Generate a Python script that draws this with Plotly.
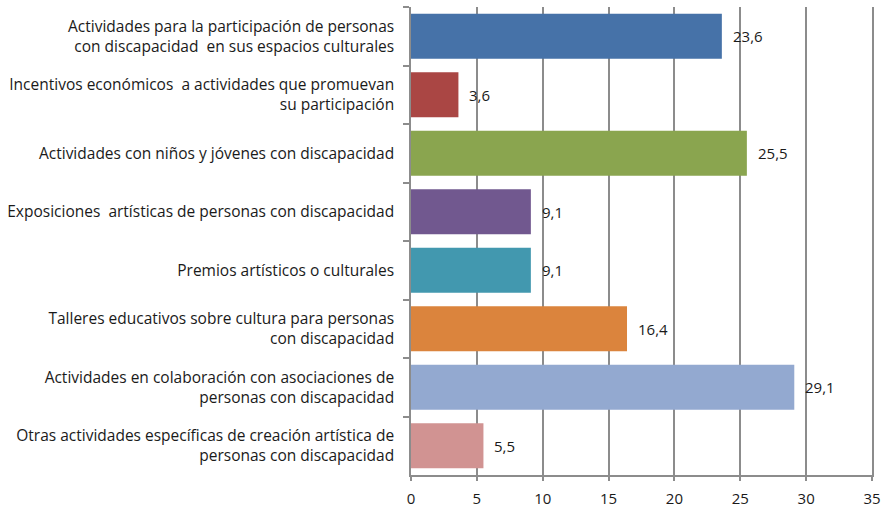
import plotly.graph_objects as go

categorias = [
    "Actividades para la participación de personas<br>con discapacidad  en sus espacios culturales",
    "Incentivos económicos  a actividades que promuevan<br>su participación",
    "Actividades con niños y jóvenes con discapacidad",
    "Exposiciones  artísticas de personas con discapacidad",
    "Premios artísticos o culturales",
    "Talleres educativos sobre cultura para personas<br>con discapacidad",
    "Actividades en colaboración con asociaciones de<br>personas con discapacidad",
    "Otras actividades específicas de creación artística de<br>personas con discapacidad",
]
valores = [23.6, 3.6, 25.5, 9.1, 9.1, 16.4, 29.1, 5.5]
colores = ["#4672A8", "#AA4644", "#8AA54F", "#71588F",
           "#4298AF", "#DB843D", "#93A9D0", "#D19392"]
ticks_x = [0, 5, 10, 15, 20, 25, 30, 35]

fig = go.Figure()
fig.add_trace(go.Bar(
    x=valores,
    y=categorias,
    orientation="h",
    marker=dict(color=colores, line=dict(width=0)),
    hoverinfo="x+y",
))

# etiquetas de datos a la derecha de cada barra
for cat, val in zip(categorias, valores):
    fig.add_annotation(
        x=val, y=cat,
        text=f"{val:.1f}".replace(".", ","),
        showarrow=False,
        xanchor="left",
        xshift=9,
        font=dict(size=15, color="#1a1a1a"),
    )

fig.update_layout(
    width=882,
    height=507,
    margin=dict(l=411, r=10, t=7, b=32, autoexpand=False),
    paper_bgcolor="white",
    plot_bgcolor="white",
    font=dict(family="Open Sans, Lato, sans-serif", size=15.5, color="#1a1a1a"),
    bargap=0.23,
    showlegend=False,
)
fig.update_xaxes(
    range=[0, 35],
    tickvals=ticks_x,
    tickfont=dict(size=15),
    showgrid=True,
    gridcolor="#8c8c8c",
    gridwidth=1.5,
    showline=True,
    linecolor="#8c8c8c",
    linewidth=1.5,
    ticks="outside",
    ticklen=4,
    tickcolor="#8c8c8c",
    tickwidth=1.5,
    ticklabelstandoff=5,
    ticklabeloverflow="allow",
    zeroline=False,
    automargin=False,
    fixedrange=True,
)
fig.update_yaxes(
    categoryorder="array",
    categoryarray=categorias,
    autorange="reversed",
    showline=True,
    mirror=True,
    linecolor="#8c8c8c",
    linewidth=1.5,
    ticks="outside",
    tickson="boundaries",
    ticklen=6,
    tickcolor="#8c8c8c",
    tickwidth=1.5,
    ticklabelstandoff=12,
    showgrid=False,
    automargin=False,
    fixedrange=True,
)

# quitar el margen por defecto del body para que la figura ocupe toda la ventana
fig.write_html(
    "out.html",
    config={"displayModeBar": False},
    post_script="document.body.style.margin='0';document.body.style.overflow='hidden';",
)
